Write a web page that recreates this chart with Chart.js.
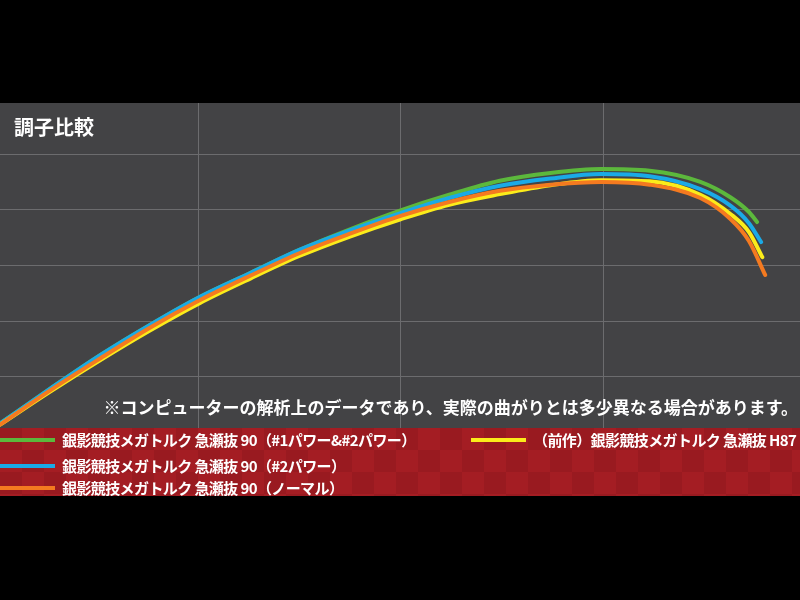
<!DOCTYPE html>
<html lang="ja">
<head>
<meta charset="utf-8">
<script src="https://cdn.jsdelivr.net/npm/chart.js@4"></script>
<style>
  html, body { margin: 0; padding: 0; background: #000; }
  #wrap { position: relative; width: 800px; height: 600px; overflow: hidden; background: #000;
          font-family: "Noto Sans CJK JP", "Noto Sans", sans-serif; }
  #plot { position: absolute; left: 0; top: 103px; width: 800px; height: 325px; background: #434345; }
  #title { position: absolute; left: 14px; top: 117px; color: #fff; font-size: 20px; line-height: 20px; font-weight: bold; }
  #note { position: absolute; right: 2px; top: 398px; color: #fff; font-size: 17px; line-height: 18px; font-weight: bold; white-space: nowrap; }
  #legend { position: absolute; left: 0; top: 428px; width: 800px; height: 68px;
            background: repeating-conic-gradient(#a41d23 0 25%, #991a20 0 50%) 0 0 / 44px 44px; }
  .item { position: absolute; height: 20px; white-space: nowrap; }
  .item .sw { position: absolute; left: 0; top: 8px; width: 55px; height: 4px; }
  .item .tx { position: absolute; left: 62px; top: 0; color: #fff; font-size: 15px; line-height: 20px;
              font-weight: bold; letter-spacing: -0.6px; }
</style>
</head>
<body>
<div id="wrap">
  <div id="plot"><canvas id="myChart" width="800" height="325"></canvas></div>
  <div id="title">調子比較</div>
  <div id="note">※コンピューターの解析上のデータであり、実際の曲がりとは多少異なる場合があります。</div>
  <div id="legend"></div>
</div>
<script>
"use strict";

// position along the rod (grid every 50)
const xPos = [1, 13.5, 26, 38, 50.5, 63, 75, 87.5, 100, 112, 124.5, 137, 149.5, 161.5, 174, 181.5, 186];

const names = [
  "銀影競技メガトルク 急瀬抜 90（#1パワー&#2パワー）",
  "銀影競技メガトルク 急瀬抜 90（#2パワー）",
  "（前作）銀影競技メガトルク 急瀬抜 H87",
  "銀影競技メガトルク 急瀬抜 90（ノーマル）",
];
const colors = ["#5cb83c", "#1aaae6", "#fbec1a", "#f47a20"];

const green  = [1.6, 7.9, 14.0, 19.3, 24.4, 28.7, 32.8, 36.5, 39.9, 42.7, 45.2, 46.6, 47.3, 47.0, 45.0, 42.2, 39.6];
const blue   = [1.6, 7.9, 14.0, 19.3, 24.4, 28.7, 32.8, 36.3, 39.4, 42.1, 44.3, 45.6, 46.4, 46.0, 43.7, 40.7, 37.6];
const yellow = [1.4, 7.4, 13.1, 18.3, 23.3, 27.7, 31.7, 35.2, 38.3, 40.9, 42.8, 44.4, 45.3, 45.1, 42.7, 39.2, 36.0];
const orange = [1.4, 7.6, 13.4, 18.8, 23.8, 28.2, 32.2, 35.7, 38.9, 41.4, 43.4, 44.5, 45.0, 44.5, 42.1, 38.3, 34.4];

// tip of each curve (green, blue, yellow, orange)
const endX = [188, 189, 189.3, 190];
const endY = [37.8, 34.2, 31.5, 28.3];

const xTicks = [50, 100, 150];
const yTicks = [10, 20, 30, 40, 50];

const values = [green, blue, yellow, orange];
const drawOrder = [3, 2, 1, 0]; // orange on top

const datasets = values.map((ys, i) => ({
  label: names[i],
  data: ys.map((y, j) => ({ x: xPos[j], y: y })).concat([{ x: endX[i], y: endY[i] }]),
  borderColor: colors[i],
  borderWidth: 4,
  borderCapStyle: "round",
  cubicInterpolationMode: "monotone",
  pointRadius: 0,
  fill: false,
  order: drawOrder[i],
}));

const gridColor = "#6c6c6e";

new Chart(document.getElementById("myChart"), {
  type: "line",
  data: { datasets: datasets },
  options: {
    responsive: false,
    animation: false,
    layout: { padding: 0 },
    plugins: { legend: { display: false }, tooltip: { enabled: false } },
    scales: {
      x: {
        type: "linear",
        min: 1.1,
        max: 198.6,
        afterBuildTicks: (scale) => { scale.ticks = xTicks.map((v) => ({ value: v })); },
        ticks: { display: false },
        grid: { color: gridColor, lineWidth: 1, drawTicks: false },
        border: { display: false },
      },
      y: {
        min: 0.85,
        max: 59.15,
        afterBuildTicks: (scale) => { scale.ticks = yTicks.map((v) => ({ value: v })); },
        ticks: { display: false },
        grid: { color: gridColor, lineWidth: 1, drawTicks: false },
        border: { display: false },
      },
    },
  },
});

// legend: green & yellow on the first row, then blue, orange
const legendPos = [[0, 2], [0, 28], [471, 2], [0, 50]];
const legend = document.getElementById("legend");
names.forEach((name, i) => {
  const it = document.createElement("div");
  it.className = "item";
  it.style.left = legendPos[i][0] + "px";
  it.style.top = legendPos[i][1] + "px";
  it.innerHTML = '<div class="sw" style="background:' + colors[i] + '"></div><div class="tx">' + name.replace(/&/g, "&amp;") + "</div>";
  legend.appendChild(it);
});
</script>
</body>
</html>
